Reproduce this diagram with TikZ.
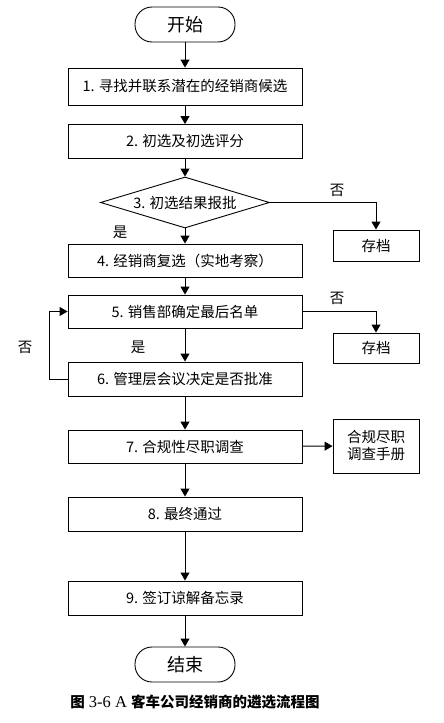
\documentclass[tikz,border=0pt]{standalone}
\usepackage{fontspec}
\setmainfont{Liberation Serif}
\newfontfamily\cjk{Noto Sans CJK SC}
\usetikzlibrary{arrows.meta,shapes.geometric}

\begin{document}
\begin{tikzpicture}[x=1pt,y=-1pt,>={Triangle[length=8pt,width=9pt]},
font=\cjk\fontsize{14.5}{17}\selectfont,
box/.style={draw,line width=0.9pt,minimum width=234pt,minimum height=34pt,inner sep=0pt},
side/.style={draw,line width=0.9pt,minimum width=86pt,minimum height=31pt,inner sep=0pt,align=center},
term/.style={draw,line width=0.9pt,rounded corners=17pt,minimum width=100pt,minimum height=35pt,
  font=\cjk\fontsize{18}{20}\selectfont},
flow/.style={->,line width=0.9pt}]
\useasboundingbox (0,0) rectangle (444,723);
\node[term] (start) at (185,24.5) {开始};
\node[box,minimum height=37pt] (s1) at (185,86.5) {1. 寻找并联系潜在的经销商候选};
\node[box] (s2) at (185,141.5) {2. 初选及初选评分};
\node[draw,line width=0.9pt,diamond,aspect=3.3,inner sep=0pt,minimum width=169pt,minimum height=51pt]
  (s3) at (185,202.5) {3. 初选结果报批};
\node[side] (arc1) at (376,245.5) {存档};
\node[box,minimum height=33pt] (s4) at (185,260.5) {4. 经销商复选（实地考察）};
\node[box,minimum height=33pt] (s5) at (185,311.5) {5. 销售部确定最后名单};
\node[side,minimum height=30pt] (arc2) at (376,348) {存档};
\node[box] (s6) at (185,379) {6. 管理层会议决定是否批准};
\node[box,minimum height=33pt] (s7) at (185,446.5) {7. 合规性尽职调查};
\node[side,minimum height=54pt] (man) at (376,446) {合规尽职\\调查手册};
\node[box] (s8) at (185,514) {8. 最终通过};
\node[box] (s9) at (185,598) {9. 签订谅解备忘录};
\node[term] (stop) at (185,664.5) {结束};
\node (no1) at (337,190) {否};
\node (yes1) at (120,232) {是};
\node (no2) at (337,298) {否};
\node (no3) at (25,347) {否};
\node (yes2) at (138,347) {是};
\node[font=\fontsize{16.5}{18}\selectfont] (cap) at (195,702)
  {{\cjk\bfseries\fontsize{14.5}{17}\selectfont 图}\ 3-6 A\ {\cjk\bfseries\fontsize{14.5}{17}\selectfont 客车公司经销商的遴选流程图}};
\path[flow] (start) edge (s1) (s1) edge (s2) (s2) edge (s3) (s3) edge (s4)
  (s4) edge (s5) (s5) edge (s6) (s6) edge (s7) (s7) edge (man)
  (s7) edge (s8) (s8) edge (s9) (s9) edge (stop);
\draw[flow] (s3.east) -| (arc1);
\draw[flow] (s5.east) -| (arc2);
\draw[flow] (s6.west) -- ++(-18,0) |- (s5.west);
\end{tikzpicture}
\end{document}
